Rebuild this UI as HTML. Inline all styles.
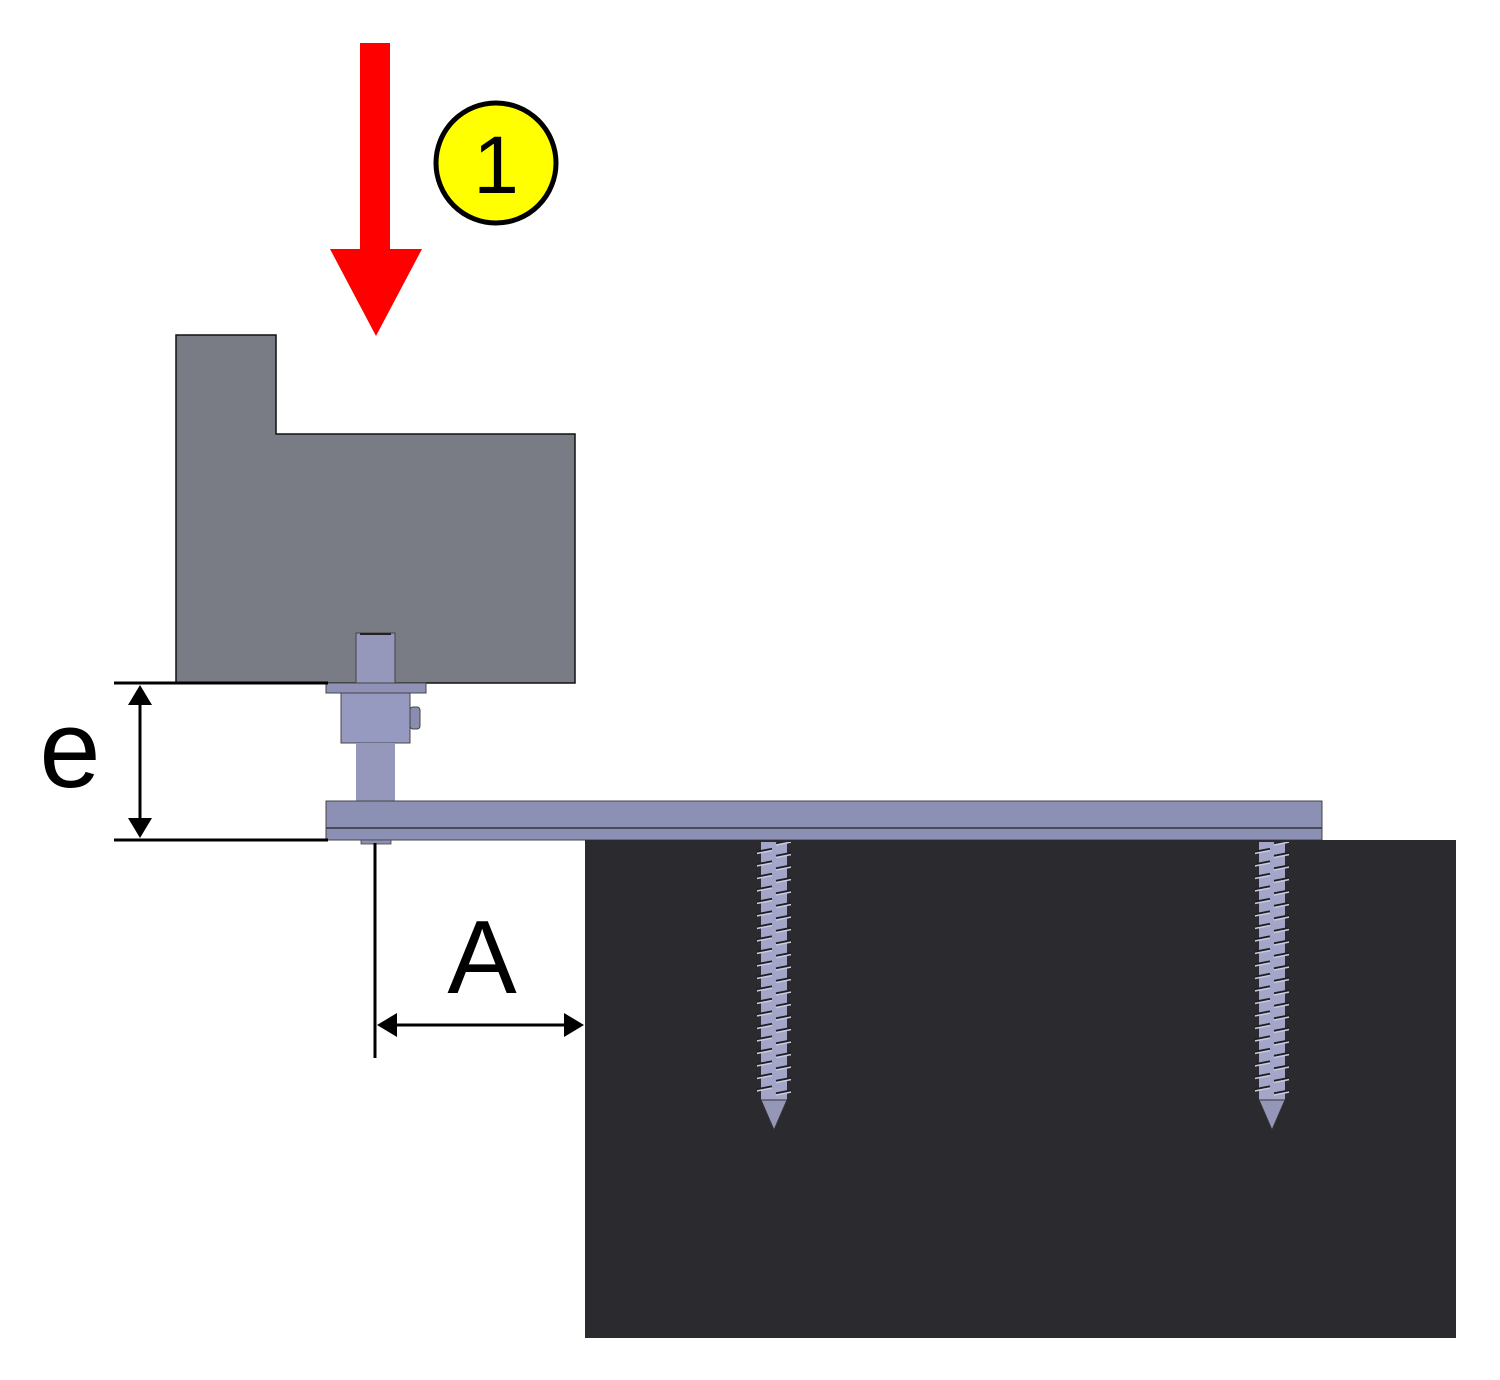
<!DOCTYPE html>
<html><head><meta charset="utf-8"><style>html,body{margin:0;padding:0;background:#fff}svg{display:block}</style></head>
<body>
<svg width="1500" height="1380" viewBox="0 0 1500 1380" xmlns="http://www.w3.org/2000/svg">
<defs>
<pattern id="thr" x="0" y="846" width="40" height="12.5" patternUnits="userSpaceOnUse">
<path d="M2 10 L38 3" stroke="#1e1e24" stroke-width="2.2"/>
<path d="M2 11.5 L38 4.5" stroke="#c9cce0" stroke-width="1.5"/>
</pattern>
<g id="screw">
<path d="M-13 842 L13 842 L13 1100 L0 1130 L-13 1100 Z" fill="#a3a6c8"/>
<g>
<path d="M-17 842 L17 842 L17 1098 L-17 1098 Z" fill="url(#thr)" transform="translate(-20 0)"/>
</g>
<path d="M-13 1100 L13 1100 L0 1130 Z" fill="#9497b8" stroke="#333" stroke-width="1"/>
</g>
</defs>
<rect width="1500" height="1380" fill="#fff"/>
<!-- red arrow -->
<rect x="360" y="43" width="30" height="208" fill="#ff0000"/>
<polygon points="330,249 422,249 376,336" fill="#ff0000"/>
<!-- badge -->
<circle cx="496" cy="163" r="60" fill="#ffff00" stroke="#000" stroke-width="5"/>
<text x="496" y="193" font-family="Liberation Sans, sans-serif" font-size="82" text-anchor="middle" fill="#000">1</text>
<!-- grey block -->
<polygon points="176,335 276,335 276,434 575,434 575,683 176,683" fill="#7a7c85" stroke="#111" stroke-width="1.5"/>
<!-- pin -->
<rect x="356" y="633" width="39" height="50" fill="#9598bb" stroke="#444" stroke-width="1"/>
<line x1="360" y1="634" x2="391" y2="634" stroke="#222" stroke-width="2"/>
<rect x="326" y="683" width="100" height="10" fill="#8f92b6" stroke="#444" stroke-width="1"/>
<rect x="341" y="693" width="69" height="50" fill="#979ac0" stroke="#444" stroke-width="1"/>
<rect x="410" y="707" width="10" height="22" rx="3" fill="#8a8db0" stroke="#444" stroke-width="1"/>
<rect x="356" y="743" width="39" height="58" fill="#9598bb"/>
<!-- plate -->
<rect x="326" y="801" width="996" height="39" fill="#8c90b4" stroke="#444" stroke-width="1"/>
<line x1="326" y1="828" x2="1322" y2="828" stroke="#333" stroke-width="1.5"/>
<rect x="361" y="840" width="30" height="4" fill="#8c90b4" stroke="#444" stroke-width="0.8"/>
<!-- base block -->
<rect x="585" y="840" width="871" height="498" fill="#2a2a2f"/>
<!-- screws -->
<g transform="translate(774 0)">
<path d="M-13 842 L13 842 L13 1100 L0 1130 L-13 1100 Z" fill="#a3a6c8"/>
<rect x="-17" y="842" width="34" height="256" fill="url(#thr)"/>
<path d="M-13 1100 L13 1100 L0 1130 Z" fill="#9497b8" stroke="#333" stroke-width="1"/>
</g>
<g transform="translate(1272 0)">
<path d="M-13 842 L13 842 L13 1100 L0 1130 L-13 1100 Z" fill="#a3a6c8"/>
<rect x="-17" y="842" width="34" height="256" fill="url(#thr)"/>
<path d="M-13 1100 L13 1100 L0 1130 Z" fill="#9497b8" stroke="#333" stroke-width="1"/>
</g>
<!-- dimension e -->
<line x1="114" y1="683" x2="328" y2="683" stroke="#000" stroke-width="3"/>
<line x1="114" y1="840" x2="328" y2="840" stroke="#000" stroke-width="3"/>
<line x1="140" y1="700" x2="140" y2="823" stroke="#000" stroke-width="3"/>
<polygon points="140,685 128,705 152,705" fill="#000"/>
<polygon points="140,838 128,818 152,818" fill="#000"/>
<text x="70" y="787" font-family="Liberation Sans, sans-serif" font-size="110" text-anchor="middle" fill="#000">e</text>
<!-- dimension A -->
<line x1="375" y1="843" x2="375" y2="1058" stroke="#000" stroke-width="3"/>
<line x1="392" y1="1025" x2="568" y2="1025" stroke="#000" stroke-width="3"/>
<polygon points="377,1025 397,1013 397,1037" fill="#000"/>
<polygon points="584,1025 564,1013 564,1037" fill="#000"/>
<text x="482" y="993" font-family="Liberation Sans, sans-serif" font-size="104" text-anchor="middle" fill="#000">A</text>
</svg>
</body></html>
